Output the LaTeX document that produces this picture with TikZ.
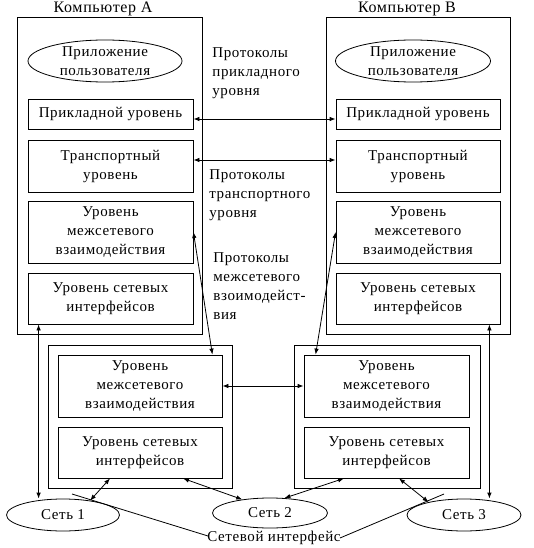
\documentclass[tikz,border=0pt]{standalone}
\usepackage{fontspec}
\setmainfont{Liberation Serif}
\newfontfamily\tnr[LetterSpace=4]{Liberation Serif}
\usetikzlibrary{shapes.geometric,arrows.meta}
\begin{document}
\begin{tikzpicture}[x=1pt,y=-1pt, line width=0.8pt,
  every node/.style={font=\tnr\fontsize{15}{19}\selectfont},
  lay/.style={draw, rectangle, inner sep=0pt, align=center},
  outer/.style={draw, rectangle, inner sep=0pt},
  ell/.style={draw, ellipse, inner sep=0pt, align=center},
  arr/.style={{Latex[length=6pt,width=4.5pt]}-{Latex[length=6pt,width=4.5pt]}},
  plain/.style={align=left, inner sep=0pt},
  ttl/.style={font=\tnr\fontsize{16}{19}\selectfont, inner sep=0pt}]
\useasboundingbox (0,0) rectangle (534,548);
% outer boxes
\node[outer, minimum width=185pt, minimum height=317pt] (compA) at (109.5,175.5) {};
\node[outer, minimum width=184pt, minimum height=317pt] (compB) at (418,175.5) {};
\node[outer, minimum width=184pt, minimum height=143pt] (r1) at (140,416.5) {};
\node[outer, minimum width=186pt, minimum height=143pt] (r2) at (387,416.5) {};
% titles
\node[ttl] (tA) at (103,9) {Компьютер А};
\node[ttl] (tB) at (407,9) {Компьютер B};
% computer A
\node[ell, minimum width=154pt, minimum height=42pt] (uA) at (105,61) {Приложение\\пользователя};
\node[lay, minimum width=165pt, minimum height=30pt] (appA) at (110.5,114) {Прикладной уровень};
\node[lay, minimum width=165pt, minimum height=52pt] (trA) at (110.5,166) {Транспортный\\уровень};
\node[lay, minimum width=165pt, minimum height=62pt] (netA) at (110.5,232) {Уровень\\межсетевого\\взаимодействия};
\node[lay, minimum width=165pt, minimum height=51pt] (ifA) at (110.5,298.5) {Уровень сетевых\\интерфейсов};
% computer B
\node[ell, minimum width=155pt, minimum height=42pt] (uB) at (413,61) {Приложение\\пользователя};
\node[lay, minimum width=164pt, minimum height=30pt] (appB) at (418,114) {Прикладной уровень};
\node[lay, minimum width=164pt, minimum height=52pt] (trB) at (418,166) {Транспортный\\уровень};
\node[lay, minimum width=164pt, minimum height=62pt] (netB) at (418,232) {Уровень\\межсетевого\\взаимодействия};
\node[lay, minimum width=164pt, minimum height=51pt] (ifB) at (418,298.5) {Уровень сетевых\\интерфейсов};
% router 1
\node[lay, minimum width=164pt, minimum height=62pt] (r1net) at (140,386) {Уровень\\межсетевого\\взаимодействия};
\node[lay, minimum width=164pt, minimum height=51pt] (r1if) at (140,452.5) {Уровень сетевых\\интерфейсов};
% router 2
\node[lay, minimum width=165pt, minimum height=62pt] (r2net) at (386.5,386) {Уровень\\межсетевого\\взаимодействия};
\node[lay, minimum width=165pt, minimum height=51pt] (r2if) at (386.5,452.5) {Уровень сетевых\\интерфейсов};
% networks
\node[ell, minimum width=113pt, minimum height=32pt] (net1) at (63,515) {Сеть 1};
\node[ell, minimum width=115pt, minimum height=30pt] (net2) at (270,513) {Сеть 2};
\node[ell, minimum width=114pt, minimum height=32pt] (net3) at (464,515) {Сеть 3};
% protocol labels
\node[plain, anchor=west] (pApp) at (212,73) {Протоколы\\прикладного\\уровня};
\node[plain, anchor=west] (pTr) at (209,195) {Протоколы\\транспортного\\уровня};
\node[plain, anchor=west] (pNet) at (213,286) {Протоколы\\межсетевого\\взоимодейст-\\вия};
\node[inner sep=0pt] (sif) at (274,538) {Сетевой интерфейс};
\coordinate (c1) at (72,494);
\coordinate (c2) at (444,494);
% arrows
\draw[arr] ([yshift=-5pt]appA.east) -- ([yshift=-5pt]appB.west);
\draw[arr] ([yshift=6pt]trA.east) -- ([yshift=6pt]trB.west);
\draw[arr] (netA.east) -- ([xshift=-10pt]r1net.north east);
\draw[arr] (netB.west) -- ([xshift=12pt]r2net.north west);
\draw[arr] (r1net.east) -- (r2net.west);
\draw[arr] ([xshift=11pt]ifA.south west) -- ([xshift=11pt]ifA.south west |- net1.north);
\draw[arr] ([xshift=-11pt]ifB.south east) -- ([xshift=-11pt]ifB.south east |- net3.north);
\draw[arr] ([xshift=-30pt]r1if.south) -- (net1.28);
\draw[arr] ([xshift=43pt]r1if.south) -- (net2.154);
\draw[arr] ([xshift=-42.5pt]r2if.south) -- (net2.46);
\draw[arr] ([xshift=12.5pt]r2if.south) -- (net3.160);
% interface pointers
\draw (c1) -- ([xshift=1pt,yshift=2pt]sif.west);
\draw (c2) -- ([xshift=-1pt,yshift=0pt]sif.east);
\end{tikzpicture}
\end{document}
